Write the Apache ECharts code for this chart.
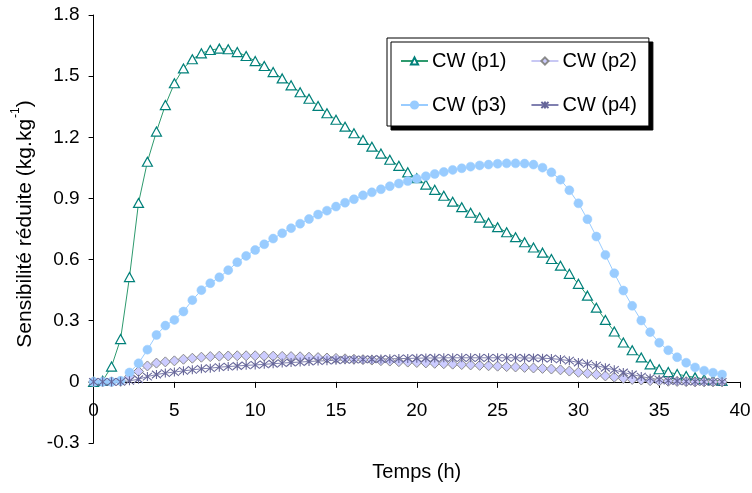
<!DOCTYPE html>
<html>
<head>
<meta charset="utf-8">
<script src="https://cdn.jsdelivr.net/npm/echarts@6/dist/echarts.min.js"></script>
<style>
html,body{margin:0;padding:0;background:#fff;}
#chart{width:752px;height:493px;}
</style>
</head>
<body>
<div id="chart"></div>
<script>
// Time (h), one sample every 2000 s
const times = [0, 0.56, 1.11, 1.67, 2.22, 2.78, 3.33, 3.89, 4.44, 5, 5.56, 6.11, 6.67, 7.22, 7.78, 8.33, 8.89, 9.44, 10, 10.56,
  11.11, 11.67, 12.22, 12.78, 13.33, 13.89, 14.44, 15, 15.56, 16.11, 16.67, 17.22, 17.78, 18.33, 18.89, 19.44, 20, 20.56, 21.11, 21.67,
  22.22, 22.78, 23.33, 23.89, 24.44, 25, 25.56, 26.11, 26.67, 27.22, 27.78, 28.33, 28.89, 29.44, 30, 30.56, 31.11, 31.67, 32.22, 32.78,
  33.33, 33.89, 34.44, 35, 35.56, 36.11, 36.67, 37.22, 37.78, 38.33, 38.89];

const cwP1 = [0, 0.005, 0.075, 0.21, 0.514, 0.878, 1.08, 1.228, 1.358, 1.465, 1.538, 1.583, 1.612, 1.628, 1.635, 1.632, 1.618, 1.599, 1.574, 1.55,
  1.52, 1.489, 1.455, 1.421, 1.389, 1.354, 1.318, 1.286, 1.252, 1.22, 1.187, 1.154, 1.12, 1.09, 1.06, 1.028, 0.999, 0.968, 0.942, 0.913,
  0.884, 0.857, 0.83, 0.806, 0.781, 0.759, 0.734, 0.71, 0.685, 0.659, 0.634, 0.603, 0.57, 0.53, 0.481, 0.423, 0.364, 0.304, 0.247, 0.193,
  0.155, 0.12, 0.086, 0.062, 0.048, 0.038, 0.029, 0.022, 0.013, 0.008, 0.004];

const cwP2 = [0, 0, 0, 0.003, 0.025, 0.051, 0.078, 0.092, 0.098, 0.103, 0.111, 0.116, 0.121, 0.124, 0.126, 0.127, 0.128, 0.128, 0.128, 0.127,
  0.126, 0.125, 0.124, 0.123, 0.121, 0.119, 0.117, 0.115, 0.113, 0.111, 0.109, 0.107, 0.104, 0.102, 0.099, 0.097, 0.095, 0.093, 0.091, 0.089,
  0.087, 0.085, 0.083, 0.081, 0.079, 0.077, 0.075, 0.073, 0.071, 0.068, 0.066, 0.063, 0.059, 0.053, 0.047, 0.042, 0.036, 0.029, 0.023, 0.017,
  0.012, 0.009, 0.006, 0.004, 0.003, 0.002, 0.001, 0, 0, 0, 0];

const cwP3 = [0, 0, 0, 0.005, 0.046, 0.091, 0.158, 0.23, 0.276, 0.304, 0.345, 0.401, 0.45, 0.484, 0.513, 0.548, 0.587, 0.618, 0.647, 0.675,
  0.703, 0.729, 0.754, 0.776, 0.799, 0.821, 0.84, 0.86, 0.879, 0.896, 0.915, 0.93, 0.945, 0.96, 0.973, 0.985, 0.997, 1.009, 1.02, 1.03,
  1.04, 1.048, 1.056, 1.062, 1.066, 1.07, 1.072, 1.072, 1.071, 1.066, 1.051, 1.028, 0.992, 0.94, 0.876, 0.798, 0.713, 0.623, 0.533, 0.448,
  0.373, 0.301, 0.244, 0.192, 0.155, 0.121, 0.094, 0.071, 0.055, 0.045, 0.036];

const cwP4 = [0, 0, 0, 0, 0.005, 0.013, 0.026, 0.036, 0.043, 0.048, 0.054, 0.059, 0.064, 0.067, 0.072, 0.075, 0.078, 0.081, 0.083, 0.086,
  0.089, 0.092, 0.095, 0.097, 0.1, 0.102, 0.104, 0.106, 0.108, 0.109, 0.11, 0.111, 0.112, 0.113, 0.114, 0.115, 0.116, 0.117, 0.117, 0.118,
  0.118, 0.118, 0.118, 0.118, 0.118, 0.118, 0.118, 0.118, 0.117, 0.117, 0.116, 0.114, 0.11, 0.104, 0.095, 0.088, 0.08, 0.069, 0.059, 0.046,
  0.036, 0.026, 0.018, 0.011, 0.006, 0.004, 0.002, 0.001, 0, 0, 0];

const seriesNames = ['CW (p1)', 'CW (p2)', 'CW (p3)', 'CW (p4)'];
const xTicks = { min: 0, max: 40, interval: 5 };
const yTicks = { min: -0.3, max: 1.8, interval: 0.3 };

const FONT = 'Liberation Sans, Arial, sans-serif';
const pair = (ys) => times.map((t, i) => [t, ys[i]]);

// grid geometry; the x axis is lifted from the grid bottom to the y = 0 line
const gridTop = 15, gridBottom = 50, chartH = 493;
const plotH = chartH - gridTop - gridBottom;
const zeroOffset = -plotH * (0 - yTicks.min) / (yTicks.max - yTicks.min);

const chart = echarts.init(document.getElementById('chart'), null, { renderer: 'canvas' });
chart.setOption({
  animation: false,
  backgroundColor: '#ffffff',
  grid: { left: 93.6, right: 12, top: gridTop, bottom: gridBottom, containLabel: false, outerBoundsMode: 'none' },
  xAxis: {
    type: 'value', min: xTicks.min, max: xTicks.max, interval: xTicks.interval,
    position: 'bottom', offset: zeroOffset,
    name: 'Temps (h)', nameLocation: 'middle', nameGap: 81,
    nameTextStyle: { fontFamily: FONT, fontSize: 20, color: '#000' },
    axisLine: { onZero: false, lineStyle: { color: '#000', width: 1 } },
    axisTick: { show: true, inside: false, length: 6, lineStyle: { color: '#000' } },
    axisLabel: { fontFamily: FONT, fontSize: 19, color: '#000', margin: 19 },
    splitLine: { show: false }
  },
  yAxis: {
    type: 'value', min: yTicks.min, max: yTicks.max, interval: yTicks.interval,
    name: '{a|Sensibilité réduite (kg.kg}{s|-1}{a|)}', nameLocation: 'middle', nameGap: 58, nameRotate: 90,
    nameTextStyle: {
      fontFamily: FONT, fontSize: 21, color: '#000', padding: [0, 0, 0, 10],
      rich: {
        a: { fontFamily: FONT, fontSize: 21, color: '#000', lineHeight: 26, verticalAlign: 'bottom' },
        s: { fontFamily: FONT, fontSize: 12, color: '#000', lineHeight: 26, verticalAlign: 'top', padding: [0, 0, 0, 1] }
      }
    },
    axisLine: { onZero: false, lineStyle: { color: '#000', width: 1 } },
    axisTick: { show: true, inside: false, length: 5, lineStyle: { color: '#000' } },
    axisLabel: { fontFamily: FONT, fontSize: 19, color: '#000', margin: 14,
      formatter: (v) => String(Math.round(v * 10) / 10) },
    splitLine: { show: false }
  },
  legend: {
    left: 387, top: 38, width: 250,
    orient: 'horizontal',
    padding: [13, 12, 11, 13],
    itemGap: 24,
    itemWidth: 27, itemHeight: 9,
    backgroundColor: '#ffffff',
    borderColor: '#000', borderWidth: 1, borderRadius: 0,
    shadowColor: '#000', shadowBlur: 0, shadowOffsetX: 4, shadowOffsetY: 4,
    textStyle: { fontFamily: FONT, fontSize: 20, color: '#000', padding: [0, 0, 0, -1] },
    data: seriesNames
  },
  series: [
    {
      name: seriesNames[0], type: 'line', data: pair(cwP1),
      symbol: 'triangle', symbolSize: [10, 9], showAllSymbol: true,
      lineStyle: { color: '#2e9a6e', width: 1 },
      itemStyle: { color: '#ffffff', borderColor: '#00807a', borderWidth: 1.2 },
      emphasis: { disabled: true }
    },
    {
      name: seriesNames[1], type: 'line', data: pair(cwP2),
      symbol: 'diamond', symbolSize: [10, 10], showAllSymbol: true,
      lineStyle: { color: '#c8c8f4', width: 1 },
      itemStyle: { color: '#ccccff', borderColor: '#8a8a8a', borderWidth: 1 },
      emphasis: { disabled: true }
    },
    {
      name: seriesNames[2], type: 'line', data: pair(cwP3),
      symbol: 'circle', symbolSize: 9, showAllSymbol: true,
      lineStyle: { color: '#99ccff', width: 1 },
      itemStyle: { color: '#99ccff', borderColor: '#99ccff', borderWidth: 0.5 },
      emphasis: { disabled: true }
    },
    {
      name: seriesNames[3], type: 'line', data: pair(cwP4),
      symbol: 'path://M0,0L10,10M10,0L0,10M5,-1L5,11', symbolSize: 9, showAllSymbol: true,
      lineStyle: { color: '#8080b0', width: 1 },
      itemStyle: { color: 'rgba(0,0,0,0)', borderColor: '#666699', borderWidth: 1.1 },
      emphasis: { disabled: true }
    }
  ]
});
</script>
</body>
</html>
